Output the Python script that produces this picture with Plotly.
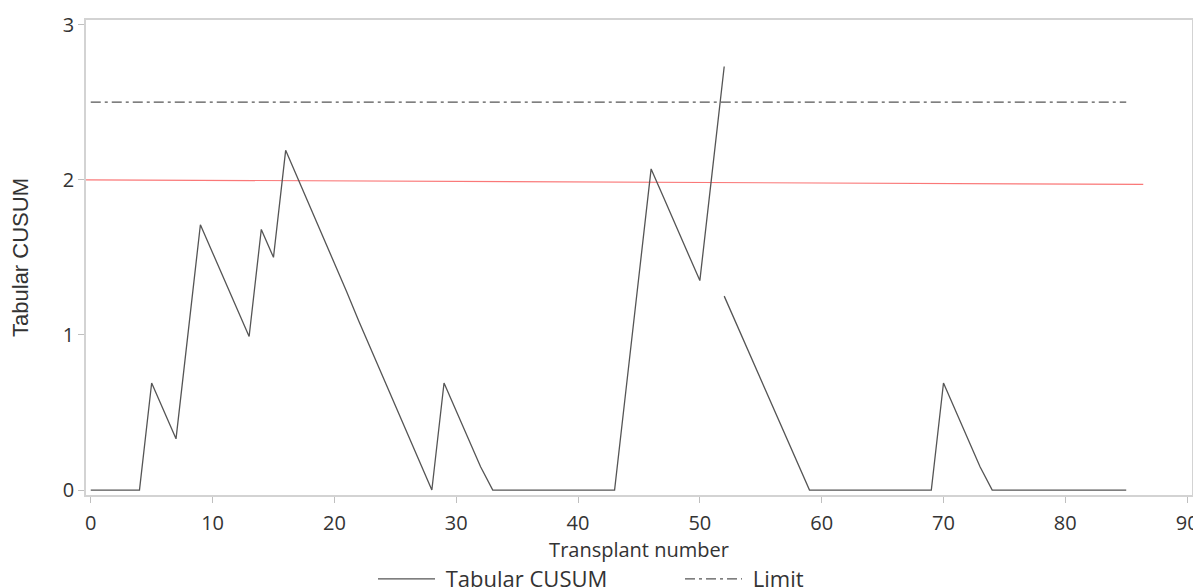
import plotly.graph_objects as go

# Tabular CUSUM, first run (before signal/reset)
x_run1 = list(range(0, 53))
cusum_run1 = [0, 0, 0, 0, 0, 0.69, 0.51, 0.33, 1.02, 1.71,
              1.53, 1.35, 1.17, 0.99, 1.68, 1.50, 2.19, 2.01, 1.83, 1.64,
              1.46, 1.28, 1.09, 0.91, 0.73, 0.55, 0.36, 0.18, 0.0, 0.69,
              0.51, 0.33, 0.15, 0, 0, 0, 0, 0, 0, 0,
              0, 0, 0, 0, 0.69, 1.38, 2.07, 1.89, 1.71, 1.53,
              1.35, 2.04, 2.73]
# second run (after reset)
x_run2 = list(range(52, 86))
cusum_run2 = [1.25, 1.07, 0.89, 0.71, 0.53, 0.35, 0.17, 0, 0, 0,
              0, 0, 0, 0, 0, 0, 0, 0, 0.69, 0.51,
              0.33, 0.15, 0, 0, 0, 0, 0, 0, 0, 0,
              0, 0, 0, 0]

limit_x = [0, 85]
limit_y = [2.5, 2.5]

ref_x = [-0.4, 86.4]
ref_y = [2.0, 1.97]

x_ticks = [0, 10, 20, 30, 40, 50, 60, 70, 80, 90]
y_ticks = [0, 1, 2, 3]

fig = go.Figure()

fig.add_trace(go.Scatter(
    x=ref_x, y=ref_y, mode="lines", showlegend=False, hoverinfo="skip",
    line=dict(color="rgb(250,120,120)", width=1.2)))

fig.add_trace(go.Scatter(
    x=x_run1 + [None] + x_run2,
    y=cusum_run1 + [None] + cusum_run2,
    mode="lines", name="\u00a0Tabular CUSUM", connectgaps=False,
    line=dict(color="#555555", width=1.3)))

fig.add_trace(go.Scatter(
    x=limit_x, y=limit_y, mode="lines", name="\u00a0Limit",
    line=dict(color="#555555", width=1.2, dash="10px,4px,3px,4px")))

axis_common = dict(
    showline=True, linecolor="#d3d3d3", linewidth=1.5, mirror=True,
    ticks="outside", ticklen=6, tickcolor="#bfbfbf", tickwidth=1,
    showgrid=False, zeroline=False, automargin=False,
    tickfont=dict(family="Open Sans", size=20, color="#333333"),
)

fig.update_xaxes(range=[-0.39, 90.4], tickvals=x_ticks, ticklabelstandoff=3,
                 title=dict(text="Transplant number", standoff=5,
                            font=dict(family="Open Sans", size=20, color="#333333")),
                 **axis_common)
fig.update_yaxes(range=[-0.032, 3.03], tickvals=y_ticks,
                 title=dict(text="Tabular CUSUM", standoff=31,
                            font=dict(family="Liberation Sans", size=22, color="#333333")),
                 **axis_common)

fig.update_layout(
    width=1201, height=587,
    margin=dict(l=78, r=17, t=12, b=100, autoexpand=False),
    plot_bgcolor="white", paper_bgcolor="white",
    legend=dict(orientation="h", x=0.2595, xanchor="left", y=-0.177, yanchor="middle",
                font=dict(family="Open Sans", size=22, color="#333333"),
                itemwidth=57, entrywidth=235, bgcolor="rgba(0,0,0,0)"),
)

fig.write_html("out.html")
